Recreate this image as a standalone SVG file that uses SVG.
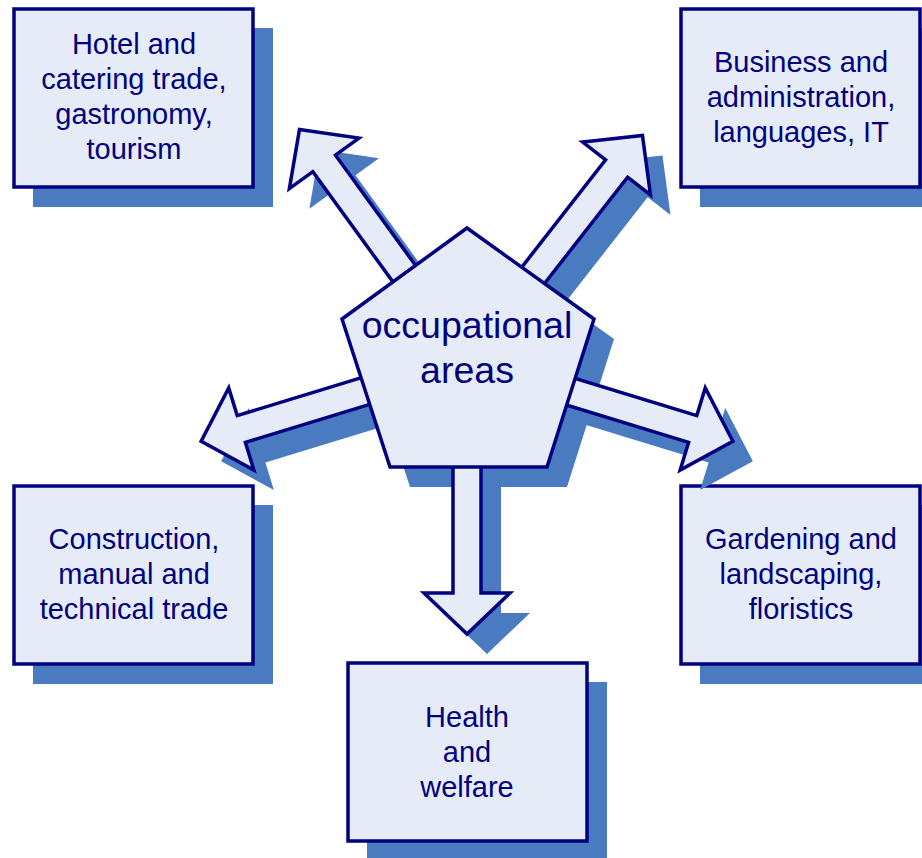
<svg xmlns="http://www.w3.org/2000/svg" width="922" height="858" viewBox="0 0 922 858">
<defs>
<style>
.sh{fill:#4A7BC1;stroke:none}
.bx{fill:#E6ECF7;stroke:#000080;stroke-width:3.5;stroke-linejoin:miter}
.t{font-family:"Liberation Sans",Arial,sans-serif;font-size:29px;fill:#000080;text-anchor:middle}
.tc{font-family:"Liberation Sans",Arial,sans-serif;font-size:37.5px;fill:#000080;text-anchor:middle}
</style>
<polygon id="arrL" points="0,-14 243,-14 243,-43 285,0 243,43 243,14 0,14"/>
<polygon id="arrS" points="0,-14 236,-14 236,-43 278,0 236,43 236,14 0,14"/>
<polygon id="arrD" points="0,-14 233,-14 233,-43 274,0 233,43 233,14 0,14"/>
</defs>
<rect width="922" height="858" fill="#FFFFFF"/>

<g id="box-hotel">
<rect class="sh" x="33" y="28" width="240" height="179"/>
<rect class="bx" x="14" y="9" width="239" height="178"/>
<text class="t" x="134" y="54">Hotel and</text>
<text class="t" x="134" y="89">catering trade,</text>
<text class="t" x="134" y="124">gastronomy,</text>
<text class="t" x="134" y="159">tourism</text>
</g>
<g id="box-business">
<rect class="sh" x="700" y="28" width="240" height="179"/>
<rect class="bx" x="681" y="9" width="239" height="178"/>
<text class="t" x="801" y="72">Business and</text>
<text class="t" x="801" y="107">administration,</text>
<text class="t" x="801" y="142">languages, IT</text>
</g>
<g id="box-construction">
<rect class="sh" x="33" y="505" width="240" height="179"/>
<rect class="bx" x="14" y="486" width="239" height="178"/>
<text class="t" x="134" y="549">Construction,</text>
<text class="t" x="134" y="584">manual and</text>
<text class="t" x="134" y="619">technical trade</text>
</g>
<g id="box-gardening">
<rect class="sh" x="700" y="505" width="240" height="179"/>
<rect class="bx" x="681" y="486" width="239" height="178"/>
<text class="t" x="801" y="549">Gardening and</text>
<text class="t" x="801" y="584">landscaping,</text>
<text class="t" x="801" y="619">floristics</text>
</g>
<g id="box-health">
<rect class="sh" x="367" y="682" width="240" height="179"/>
<rect class="bx" x="348" y="663" width="239" height="178"/>
<text class="t" x="467" y="727">Health</text>
<text class="t" x="467" y="762">and</text>
<text class="t" x="467" y="797">welfare</text>
</g>

<g id="connectors">
<g class="sh" transform="translate(20,20)">
<use href="#arrL" transform="translate(467,360) rotate(-126)"/>
<use href="#arrL" transform="translate(467,360) rotate(-52)"/>
<use href="#arrS" transform="translate(467,360) rotate(163)"/>
<use href="#arrS" transform="translate(467,360) rotate(17)"/>
<use href="#arrD" transform="translate(467,360) rotate(90)"/>
<polygon points="467,228 594,319 547,467 390,467 342,319"/>
</g>
<g class="bx">
<use href="#arrL" transform="translate(467,360) rotate(-126)"/>
<use href="#arrL" transform="translate(467,360) rotate(-52)"/>
<use href="#arrS" transform="translate(467,360) rotate(163)"/>
<use href="#arrS" transform="translate(467,360) rotate(17)"/>
<use href="#arrD" transform="translate(467,360) rotate(90)"/>
</g>
</g>

<g id="center">
<polygon class="bx" points="467,228 594,319 547,467 390,467 342,319"/>
<text class="tc" x="467" y="338">occupational</text>
<text class="tc" x="467" y="383">areas</text>
</g>
</svg>
